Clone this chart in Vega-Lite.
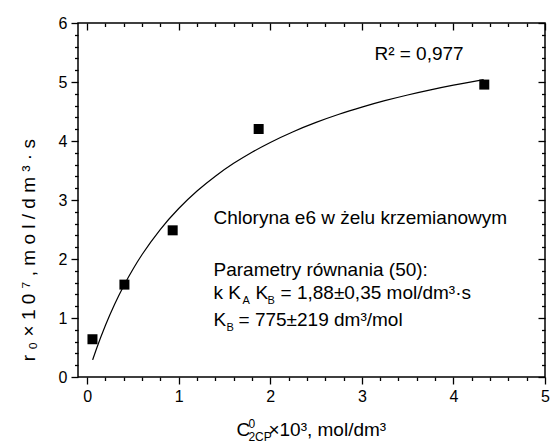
{
  "$schema": "https://vega.github.io/schema/vega-lite/v6.json",
  "width": 467,
  "height": 354,
  "autosize": "none",
  "padding": {"left": 78, "top": 23, "right": 5, "bottom": 64},
  "background": "white",
  "config": {
    "font": "Liberation Sans",
    "view": {"stroke": "black", "strokeWidth": 1.5},
    "axis": {"grid": false, "domain": false, "tickColor": "black", "tickWidth": 1.3, "labelColor": "black", "labelFont": "Liberation Sans", "labelFontSize": 16, "labelFlush": false, "labelOverlap": false, "titleColor": "black", "titleFont": "Liberation Sans", "titleFontWeight": "normal"}
  },
  "datasets": {
    "points": [
      {"c": 0.058, "r": 0.64},
      {"c": 0.407, "r": 1.566},
      {"c": 0.934, "r": 2.486},
      {"c": 1.873, "r": 4.203},
      {"c": 4.337, "r": 4.956}
    ],
    "fit": [
      {"c": 0.06, "r": 0.291},
      {"c": 0.1, "r": 0.471},
      {"c": 0.2, "r": 0.878},
      {"c": 0.3, "r": 1.234},
      {"c": 0.4, "r": 1.548},
      {"c": 0.5, "r": 1.827},
      {"c": 0.6, "r": 2.076},
      {"c": 0.8, "r": 2.504},
      {"c": 1.0, "r": 2.856},
      {"c": 1.2, "r": 3.152},
      {"c": 1.4, "r": 3.404},
      {"c": 1.6, "r": 3.621},
      {"c": 1.8, "r": 3.81},
      {"c": 2.0, "r": 3.976},
      {"c": 2.25, "r": 4.158},
      {"c": 2.5, "r": 4.315},
      {"c": 2.75, "r": 4.453},
      {"c": 3.0, "r": 4.574},
      {"c": 3.25, "r": 4.683},
      {"c": 3.5, "r": 4.78},
      {"c": 3.75, "r": 4.867},
      {"c": 4.0, "r": 4.946},
      {"c": 4.33, "r": 5.04}
    ]
  },
  "layer": [
    {
      "data": {"name": "points"},
      "mark": {"type": "square", "size": 100, "filled": true, "color": "black", "opacity": 1},
      "encoding": {
        "x": {"field": "c", "type": "quantitative", "scale": {"domain": [-0.1, 5], "nice": false, "zero": false},
              "axis": {"orient": "bottom", "values": [0, 0.2, 0.4, 0.6, 0.8, 1, 1.2, 1.4, 1.6, 1.8, 2, 2.2, 2.4, 2.6, 2.8, 3, 3.2, 3.4, 3.6, 3.8, 4, 4.2, 4.4, 4.6, 4.8, 5],
                       "tickSize": {"condition": {"test": "datum.value % 1 === 0", "value": 7}, "value": 3.5},
                       "labelExpr": "datum.value % 1 === 0 ? '' + datum.value : ''", "labelPadding": 4, "title": null}},
        "y": {"field": "r", "type": "quantitative", "scale": {"domain": [0, 6], "nice": false, "zero": false},
              "axis": {"orient": "left", "values": [0, 0.2, 0.4, 0.6, 0.8, 1, 1.2, 1.4, 1.6, 1.8, 2, 2.2, 2.4, 2.6, 2.8, 3, 3.2, 3.4, 3.6, 3.8, 4, 4.2, 4.4, 4.6, 4.8, 5, 5.2, 5.4, 5.6, 5.8, 6],
                       "tickSize": {"condition": {"test": "datum.value % 1 === 0", "value": 7}, "value": 3.5},
                       "labelExpr": "datum.value % 1 === 0 ? '' + datum.value : ''", "labelPadding": 4, "title": null}}
      }
    },
    {
      "data": {"name": "fit"},
      "mark": {"type": "line", "color": "black", "strokeWidth": 1.2, "interpolate": "monotone"},
      "encoding": {
        "x": {"field": "c", "type": "quantitative",
              "axis": {"orient": "top", "values": [0, 0.2, 0.4, 0.6, 0.8, 1, 1.2, 1.4, 1.6, 1.8, 2, 2.2, 2.4, 2.6, 2.8, 3, 3.2, 3.4, 3.6, 3.8, 4, 4.2, 4.4, 4.6, 4.8, 5],
                       "tickSize": {"condition": {"test": "datum.value % 1 === 0", "value": -7}, "value": -3.5},
                       "labels": false, "title": null}},
        "y": {"field": "r", "type": "quantitative",
              "axis": {"orient": "right", "values": [0, 0.2, 0.4, 0.6, 0.8, 1, 1.2, 1.4, 1.6, 1.8, 2, 2.2, 2.4, 2.6, 2.8, 3, 3.2, 3.4, 3.6, 3.8, 4, 4.2, 4.4, 4.6, 4.8, 5, 5.2, 5.4, 5.6, 5.8, 6],
                       "tickSize": {"condition": {"test": "datum.value % 1 === 0", "value": -7}, "value": -3.5},
                       "labels": false, "title": null}}
      }
    },
    {
      "data": {"values": [{}]},
      "mark": {"type": "text", "text": "r ₀ × 1 0 ⁷ ,  m o l / d m ³ · s", "align": "center", "baseline": "middle", "angle": 270, "fontSize": 19, "color": "black"},
      "encoding": {"x": {"datum": -0.63, "type": "quantitative", "axis": null}, "y": {"datum": 2.15, "type": "quantitative", "axis": null}}
    },
    {
      "data": {"values": [{}]},
      "mark": {"type": "text", "text": "R² = 0,977", "align": "left", "baseline": "alphabetic", "fontSize": 19, "color": "black"},
      "encoding": {"x": {"datum": 3.137, "type": "quantitative", "axis": null}, "y": {"datum": 5.37, "type": "quantitative", "axis": null}}
    },
    {
      "data": {"values": [{}]},
      "mark": {"type": "text", "text": "Chloryna e6 w żelu krzemianowym", "align": "left", "baseline": "alphabetic", "fontSize": 19, "color": "black"},
      "encoding": {"x": {"datum": 1.38, "type": "quantitative", "axis": null}, "y": {"datum": 2.6, "type": "quantitative", "axis": null}}
    },
    {
      "data": {"values": [{}]},
      "mark": {"type": "text", "text": "Parametry równania (50):", "align": "left", "baseline": "alphabetic", "fontSize": 19, "color": "black"},
      "encoding": {"x": {"datum": 1.38, "type": "quantitative", "axis": null}, "y": {"datum": 1.72, "type": "quantitative", "axis": null}}
    },
    {
      "data": {"values": [{}]},
      "mark": {"type": "text", "text": "k K", "align": "left", "baseline": "alphabetic", "fontSize": 19, "color": "black"},
      "encoding": {"x": {"datum": 1.38, "type": "quantitative", "axis": null}, "y": {"datum": 1.33, "type": "quantitative", "axis": null}}
    },
    {
      "data": {"values": [{}]},
      "mark": {"type": "text", "text": "A", "align": "left", "baseline": "alphabetic", "fontSize": 11, "dx": 29, "dy": 5, "color": "black"},
      "encoding": {"x": {"datum": 1.38, "type": "quantitative", "axis": null}, "y": {"datum": 1.33, "type": "quantitative", "axis": null}}
    },
    {
      "data": {"values": [{}]},
      "mark": {"type": "text", "text": "K", "align": "left", "baseline": "alphabetic", "fontSize": 19, "dx": 42, "color": "black"},
      "encoding": {"x": {"datum": 1.38, "type": "quantitative", "axis": null}, "y": {"datum": 1.33, "type": "quantitative", "axis": null}}
    },
    {
      "data": {"values": [{}]},
      "mark": {"type": "text", "text": "B", "align": "left", "baseline": "alphabetic", "fontSize": 11, "dx": 54, "dy": 5, "color": "black"},
      "encoding": {"x": {"datum": 1.38, "type": "quantitative", "axis": null}, "y": {"datum": 1.33, "type": "quantitative", "axis": null}}
    },
    {
      "data": {"values": [{}]},
      "mark": {"type": "text", "text": "= 1,88±0,35 mol/dm³·s", "align": "left", "baseline": "alphabetic", "fontSize": 19, "dx": 67, "color": "black"},
      "encoding": {"x": {"datum": 1.38, "type": "quantitative", "axis": null}, "y": {"datum": 1.33, "type": "quantitative", "axis": null}}
    },
    {
      "data": {"values": [{}]},
      "mark": {"type": "text", "text": "K", "align": "left", "baseline": "alphabetic", "fontSize": 19, "color": "black"},
      "encoding": {"x": {"datum": 1.38, "type": "quantitative", "axis": null}, "y": {"datum": 0.86, "type": "quantitative", "axis": null}}
    },
    {
      "data": {"values": [{}]},
      "mark": {"type": "text", "text": "B", "align": "left", "baseline": "alphabetic", "fontSize": 11, "dx": 13, "dy": 5, "color": "black"},
      "encoding": {"x": {"datum": 1.38, "type": "quantitative", "axis": null}, "y": {"datum": 0.86, "type": "quantitative", "axis": null}}
    },
    {
      "data": {"values": [{}]},
      "mark": {"type": "text", "text": "= 775±219 dm³/mol", "align": "left", "baseline": "alphabetic", "fontSize": 19, "dx": 25, "color": "black"},
      "encoding": {"x": {"datum": 1.38, "type": "quantitative", "axis": null}, "y": {"datum": 0.86, "type": "quantitative", "axis": null}}
    },
    {
      "data": {"values": [{}]},
      "mark": {"type": "text", "text": "C", "align": "left", "baseline": "alphabetic", "fontSize": 19, "color": "black"},
      "encoding": {"x": {"datum": 1.63, "type": "quantitative", "axis": null}, "y": {"datum": -1.0, "type": "quantitative", "axis": null}}
    },
    {
      "data": {"values": [{}]},
      "mark": {"type": "text", "text": "0", "align": "left", "baseline": "alphabetic", "fontSize": 12, "dx": 12, "dy": -8, "color": "black"},
      "encoding": {"x": {"datum": 1.63, "type": "quantitative", "axis": null}, "y": {"datum": -1.0, "type": "quantitative", "axis": null}}
    },
    {
      "data": {"values": [{}]},
      "mark": {"type": "text", "text": "2CP", "align": "left", "baseline": "alphabetic", "fontSize": 12, "dx": 12, "dy": 5, "color": "black"},
      "encoding": {"x": {"datum": 1.63, "type": "quantitative", "axis": null}, "y": {"datum": -1.0, "type": "quantitative", "axis": null}}
    },
    {
      "data": {"values": [{}]},
      "mark": {"type": "text", "text": "×10³, mol/dm³", "align": "left", "baseline": "alphabetic", "fontSize": 19, "dx": 32, "color": "black"},
      "encoding": {"x": {"datum": 1.63, "type": "quantitative", "axis": null}, "y": {"datum": -1.0, "type": "quantitative", "axis": null}}
    }
  ],
  "resolve": {"axis": {"x": "independent", "y": "independent"}}
}
